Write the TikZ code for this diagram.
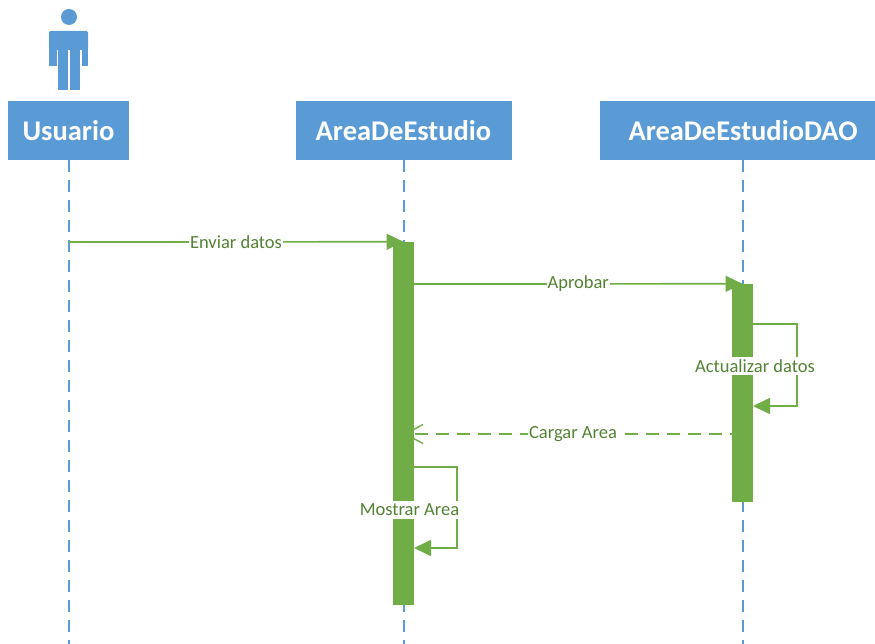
\documentclass[tikz,border=0pt]{standalone}
\usepackage{fontspec}
\setmainfont{Carlito}
\usetikzlibrary{arrows.meta,positioning}
\definecolor{umlblue}{HTML}{5B9BD5}
\definecolor{umlgreen}{HTML}{70AD47}
\definecolor{msgtext}{HTML}{548235}
\tikzset{
  header/.style={fill=umlblue, text=white, font=\bfseries\fontsize{28.5}{30}\selectfont, minimum height=59pt, inner sep=0pt},
  lifeline/.style={umlblue, line width=2pt, dash pattern=on 12pt off 8pt},
  actbar/.style={fill=umlgreen, minimum width=21pt, inner sep=0pt},
  msg/.style={umlgreen, line width=1.7pt, -{Triangle[length=17pt,width=16pt]}},
  reply/.style={umlgreen, line width=1.7pt, dash pattern=on 13pt off 8pt, -{Straight Barb[length=18pt,width=19pt,line width=1.4pt]}},
  msglabel/.style={fill=white, text=msgtext, font=\fontsize{18.5}{20}\selectfont, inner xsep=1pt, inner ysep=3pt}
}
\begin{document}
\begin{tikzpicture}[x=1pt,y=-1pt]
\useasboundingbox (0,0) rectangle (875,644);
\coordinate (bottom) at (0,644);

% actor
\fill[umlblue] (69,17) circle (8);
\fill[umlblue, rounded corners=1.5pt] (49,31) rectangle (88,50);
\fill[umlblue] (49,40) rectangle (56.5,66);
\fill[umlblue] (81.5,40) rectangle (88,66);
\fill[umlblue] (57.7,45) rectangle (68.3,90);
\fill[umlblue] (70.3,45) rectangle (80,90);

% lifelines
\node[header, minimum width=121pt] (usuario) at (68.5,130.5) {Usuario};
\node[header, minimum width=216pt] (area) at (403.5,130.5) {AreaDeEstudio};
\node[header, minimum width=286pt] (dao) at (743,130.5) {AreaDeEstudioDAO};
\draw[lifeline] (usuario.south) -- (usuario.south |- bottom);
\draw[lifeline] (area.south) -- (area.south |- bottom);
\draw[lifeline] (dao.south) -- (dao.south |- bottom);

\node[actbar, minimum height=363pt] (areaAct) at (403.5,423.5) {};
\node[actbar, minimum height=218pt] (daoAct) at (742.5,393) {};

\coordinate (enviar) at (68.5,242);
\coordinate (aprobar) at (414,284);
\coordinate (actIn) at (753,324);
\coordinate (actOut) at (753,406);
\coordinate (cargar) at (742.5,434);
\coordinate (mostIn) at (403.5,467);
\coordinate (mostOut) at (414,548);

% messages
\draw[msg] (enviar) -- node[msglabel] (enviarLbl) {Enviar datos} (areaAct.north);
\draw[msg] (aprobar) -- node[msglabel] (aprobarLbl) {Aprobar} (daoAct.north);
\draw[msg] (actIn) -- ++(44,0) |- (actOut);
\node[msglabel] (actLbl) at (755,366) {Actualizar datos};
\draw[reply] (cargar) -- node[msglabel] (cargarLbl) {Cargar Area} (cargar -| areaAct);
\draw[msg] (mostIn) -- ++(53.5,0) |- (mostOut);
\node[msglabel] (mostLbl) at (409.5,510) {Mostrar Area};
\end{tikzpicture}
\end{document}
